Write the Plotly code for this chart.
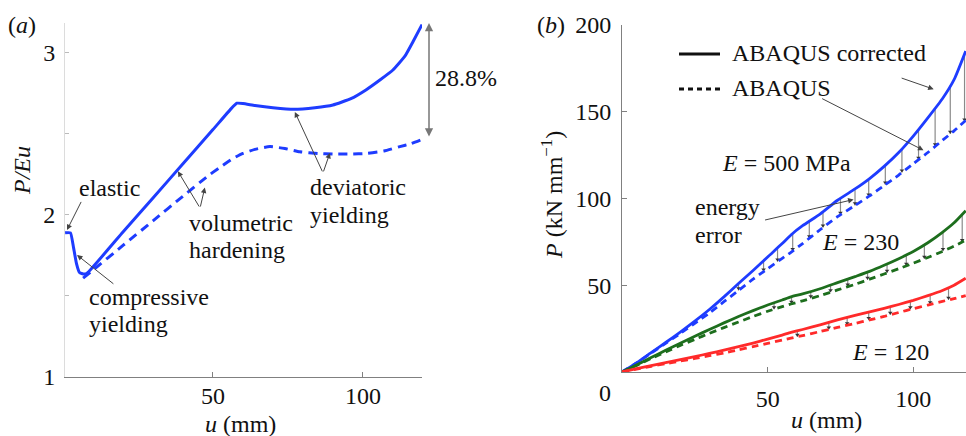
import numpy as np
import plotly.graph_objects as go

# ---------------- data: panel (a) ----------------
ua_corr = [0.7, 2.5, 3.5, 4.5, 5.5, 7, 8, 20, 30, 40, 50, 56, 58, 60, 64, 70, 77, 84, 90, 96, 101, 106, 110, 114, 117, 119.7]
pe_corr = [1.89, 1.89, 1.80, 1.70, 1.645, 1.635, 1.64, 1.895, 2.105, 2.316, 2.527, 2.655, 2.69, 2.688, 2.676, 2.662, 2.652, 2.662, 2.679, 2.718, 2.772, 2.838, 2.895, 2.98, 3.08, 3.175]
ua_abq = [6.7, 10, 20, 30, 40, 48, 52, 56.8, 60, 64, 69, 74, 79, 85, 90, 96, 101, 107, 112.3, 116, 119.5]
pe_abq = [1.61, 1.66, 1.812, 1.964, 2.116, 2.236, 2.29, 2.35, 2.38, 2.405, 2.422, 2.41, 2.39, 2.38, 2.376, 2.376, 2.38, 2.395, 2.422, 2.44, 2.465]

# ---------------- data: panel (b) ----------------
ub = [0, 5, 10, 15, 20, 25, 30, 35, 40, 45, 50, 55, 58, 62, 68, 74, 80, 85, 90, 95, 100, 105, 110, 114, 118]
p500_corr = [0, 5.3, 11.2, 17, 23, 29.3, 36, 43.3, 51, 58.5, 66.3, 74, 79, 84.3, 91, 99, 105.5, 111.5, 118.5, 126.5, 136, 146.5, 157.5, 168.5, 185]
p500_abq = [0, 5.2, 10.9, 16.5, 22.2, 28, 34, 40.5, 47, 53.5, 59.5, 65.5, 69, 74, 82, 89.5, 96, 101.5, 107.5, 113.5, 120, 126.5, 133.5, 139, 145]
p230_corr = [0, 4, 8.3, 12.5, 16.6, 20.6, 24.5, 28.3, 32, 35.4, 38.6, 41.5, 43.3, 45, 48, 51.5, 55, 58, 61.5, 65.3, 69.5, 74.5, 80.5, 86, 93]
p230_abq = [0, 3.8, 7.8, 11.6, 15.3, 18.8, 22.3, 25.6, 28.8, 32, 35, 37.7, 39.2, 41, 44, 47.3, 50.5, 53.5, 56.5, 59.5, 62.7, 66, 69.5, 72.5, 76]
p120_corr = [0, 1.9, 3.7, 5.4, 7.1, 8.9, 10.7, 12.6, 14.6, 16.7, 19, 21.3, 22.8, 24.5, 27.2, 30, 32.6, 34.6, 36.7, 38.9, 41.3, 44, 47, 50, 54]
p120_abq = [0, 1.7, 3.3, 4.8, 6.3, 7.8, 9.4, 11, 12.8, 14.6, 16.5, 18.4, 19.5, 21, 23.3, 25.7, 28, 30, 32, 34.3, 36.5, 38.6, 40.7, 42.3, 44]

# positions of the "energy error" bars
err_u_500 = [40, 48.6, 53.4, 58.6, 64.3, 69, 75, 80, 84.7, 90.4, 96.1, 101.8, 107.5, 112.7, 117.6]
err_u_230 = [52.2, 58.2, 64.8, 71.6, 77.5, 84.3, 91, 97.6, 103.8, 110.2, 116.8]
err_u_120 = [60.2, 71, 77.3, 84.7, 92.1, 99, 105.8, 112.1]

# tick labels
a_xticks = [50, 100]
a_yticks = [1, 1.5, 2, 2.5, 3]
a_yticktext = ["1", "", "2", "", "3"]
b_xticks = [50, 100]
b_yticks = [50, 100, 150, 200]

# ---------------- styling ----------------
W, H = 966, 436
FONT = "Liberation Serif, Times New Roman, serif"
FS = 24
BLUE = "#1e3cff"
GREEN = "#1d6e1d"
RED = "#ff2a2a"
AX = "#808080"


def px(x):
    return x / W


def py(y):
    return 1 - y / H


fig = go.Figure()


def err_trace(eu, us, pc, pa, xa, ya):
    xs, ys, mx, my = [], [], [], []
    for u in eu:
        top = float(np.interp(u, us, pc))
        bot = float(np.interp(u, us, pa))
        xs += [u, u, None]
        ys += [top, bot, None]
        mx.append(u)
        my.append(bot + 1.2)
    fig.add_trace(go.Scatter(x=xs, y=ys, mode="lines", line=dict(color="#8a8a8a", width=1.2),
                             xaxis=xa, yaxis=ya, showlegend=False, hoverinfo="skip"))
    fig.add_trace(go.Scatter(x=mx, y=my, mode="markers",
                             marker=dict(symbol="triangle-down", size=4, color="#333"),
                             xaxis=xa, yaxis=ya, showlegend=False, hoverinfo="skip"))


# panel (b) error bars first
err_trace(err_u_500, ub, p500_corr, p500_abq, "x2", "y2")
err_trace(err_u_230, ub, p230_corr, p230_abq, "x2", "y2")
err_trace(err_u_120, ub, p120_corr, p120_abq, "x2", "y2")

# panel (a)
fig.add_trace(go.Scatter(x=ua_abq, y=pe_abq, mode="lines",
                         line=dict(color=BLUE, width=3, dash="9px,6px", shape="spline", smoothing=0.5),
                         xaxis="x", yaxis="y", showlegend=False))
fig.add_trace(go.Scatter(x=ua_corr, y=pe_corr, mode="lines",
                         line=dict(color=BLUE, width=3, shape="spline", smoothing=0.4),
                         xaxis="x", yaxis="y", showlegend=False))

# panel (b)
for pc, pa, col in [(p500_corr, p500_abq, BLUE), (p230_corr, p230_abq, GREEN), (p120_corr, p120_abq, RED)]:
    fig.add_trace(go.Scatter(x=ub, y=pa, mode="lines",
                             line=dict(color=col, width=2.8, dash="7px,5px", shape="spline", smoothing=0.5),
                             xaxis="x2", yaxis="y2", showlegend=False))
    fig.add_trace(go.Scatter(x=ub, y=pc, mode="lines",
                             line=dict(color=col, width=2.8, shape="spline", smoothing=0.5),
                             xaxis="x2", yaxis="y2", showlegend=False))

tickfont = dict(family=FONT, size=FS, color="#111")
a_yrange = [1, 3.185]
a_ydom = [py(377), py(23)]

fig.update_layout(
    width=W, height=H, margin=dict(l=0, r=0, t=0, b=0, pad=0, autoexpand=False),
    paper_bgcolor="white", plot_bgcolor="white", showlegend=False,
    font=dict(family=FONT, size=FS, color="#111"),
    xaxis=dict(domain=[px(65), px(422)], range=[0.67, 119.7], tickvals=a_xticks, ticks="inside", ticklen=5,
               tickcolor=AX, showline=True, linecolor=AX, linewidth=1, showgrid=False, zeroline=False,
               tickfont=tickfont, anchor="y", ticklabelstandoff=-3),
    yaxis=dict(domain=a_ydom, range=a_yrange, tickvals=a_yticks, ticktext=a_yticktext, ticks="inside",
               ticklen=4, tickcolor="#bbb", showline=True, linecolor="#dcdcdc", linewidth=1, showgrid=False,
               zeroline=False, tickfont=tickfont, anchor="x", ticklabelstandoff=4),
    xaxis2=dict(domain=[px(622), 1.0], range=[0, 118.1], tickvals=b_xticks, ticks="inside", ticklen=5,
                tickcolor=AX, showline=True, linecolor=AX, linewidth=1, showgrid=False, zeroline=False,
                tickfont=tickfont, anchor="y2", ticklabelstandoff=5),
    yaxis2=dict(domain=[py(372), py(25)], range=[0, 200], tickvals=b_yticks, ticks="inside", ticklen=5,
                tickcolor=AX, showline=True, linecolor=AX, linewidth=1, showgrid=False, zeroline=False,
                tickfont=tickfont, anchor="x2", ticklabelstandoff=5),
)

ann = []


def txt(text, x, y, xanchor="left", angle=0, size=FS):
    ann.append(dict(text=text, x=px(x), y=py(y), xref="paper", yref="paper", xanchor=xanchor,
                    yanchor="middle", showarrow=False, textangle=angle,
                    font=dict(family=FONT, size=size, color="#111")))


def arrow(x, y, ax, ay, xr="x", yr="y"):
    ann.append(dict(text="", x=x, y=y, ax=ax, ay=ay, xref=xr, yref=yr, axref=xr, ayref=yr,
                    showarrow=True, arrowhead=2, arrowsize=1.1, arrowwidth=1, arrowcolor="#444"))


# panel labels and axis titles
txt("(<i>a</i>)", 22, 25, "center")
txt("(<i>b</i>)", 551, 25, "center")
txt("<i>P/Eu</i>", 22, 171, "center", angle=-90)
txt("<i>u</i> (mm)", 240, 424, "center")
txt("<i>P</i> (kN mm<sup>−1</sup>)", 552, 195, "center", angle=-90)
txt("<i>u</i> (mm)", 826, 420, "center")
txt("0", 605, 393, "center")

# panel (a) annotations
txt("elastic", 77, 188)
arrow(1.33, 1.907, 6.3, 2.09)
txt("compressive", 87, 297)
txt("yielding", 87, 324)
arrow(4.67, 1.753, 17.3, 1.568)
txt("volumetric", 187, 223)
txt("hardening", 187, 250)
arrow(38.3, 2.27, 45.7, 2.043)
arrow(47.3, 2.17, 45.7, 2.043)
txt("deviatoric", 308, 187)
txt("yielding", 308, 215)
arrow(77.3, 2.636, 86.7, 2.26)
arrow(89.0, 2.383, 86.7, 2.26)
# 28.8% double arrow between the curve ends
ann.append(dict(text="", x=px(429), y=pe_corr[-1] + 0.01, ax=0, ay=pe_abq[-1] + 0.01, xref="paper", yref="y",
                axref="pixel", ayref="y", showarrow=True, arrowhead=2, arrowside="end+start",
                arrowsize=1.1, arrowwidth=1.5, arrowcolor="#777"))
txt("28.8%", 433, 78)

# panel (b) annotations
txt("ABAQUS corrected", 730, 53)
txt("ABAQUS", 730, 88)
txt("<i>E</i> = 500 MPa", 720, 163)
txt("energy", 693, 207)
txt("error", 693, 235)
txt("<i>E</i> = 230", 820, 242)
txt("<i>E</i> = 120", 850, 352)
arrow(107.0, 163.0, 95.5, 169.7, "x2", "y2")
arrow(103.5, 127.8, 68.2, 158.0, "x2", "y2")
arrow(79.5, 99.4, 48.6, 87.4, "x2", "y2")

fig.update_layout(annotations=ann)

# legend samples (paper coordinates)
fig.add_shape(type="line", xref="paper", yref="paper", x0=px(679), x1=px(720), y0=py(54), y1=py(54),
              line=dict(color="#111", width=3))
fig.add_shape(type="line", xref="paper", yref="paper", x0=px(679), x1=px(720), y0=py(89), y1=py(89),
              line=dict(color="#111", width=3, dash="5px,4px"))

fig.write_html("out.html")
